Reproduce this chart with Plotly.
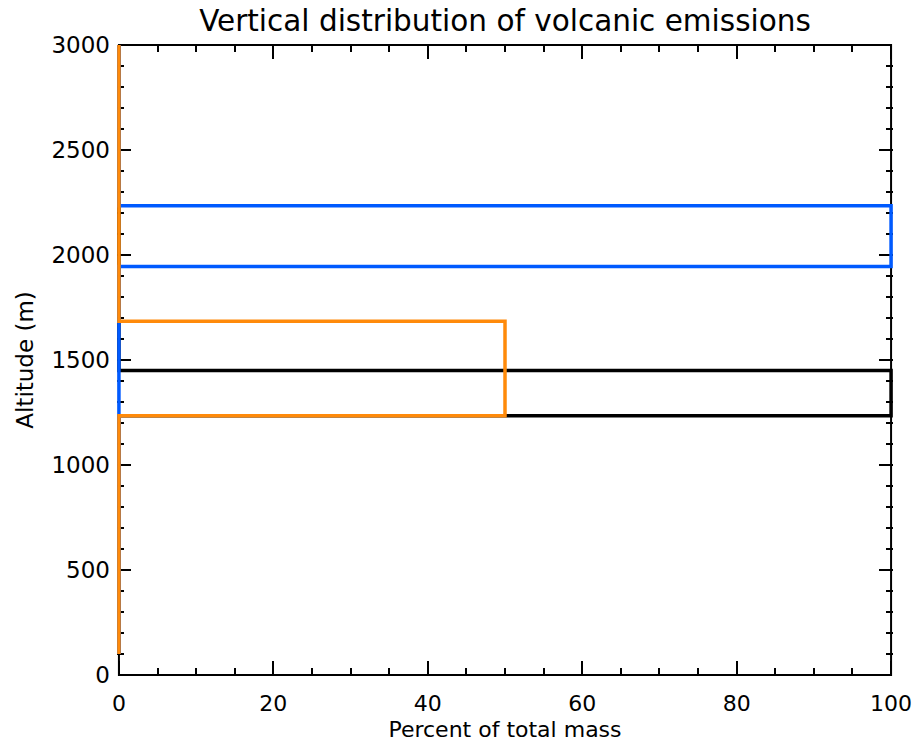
import plotly.graph_objects as go

# Layer edges (altitude, m) and percent of total mass per layer
layer_edges = [100, 1235, 1450, 1685, 1945, 2235, 3000]
series_names = ["Black", "Blue", "Orange"]
black_pct = [0, 100, 0, 0, 0, 0]
blue_pct = [0, 0, 0, 0, 100, 0]
orange_pct = [0, 50, 50, 0, 0, 0]
series_colors = ["#000000", "#005AFF", "#FF8A0A"]

x_ticks = [0, 20, 40, 60, 80, 100]
y_ticks = [0, 500, 1000, 1500, 2000, 2500, 3000]
x_range = [0, 100]
y_range = [0, 3000]
pad = 0.25  # small range padding so lines on the frame are not clipped


def step_profile(edges, vals):
    xs, ys = [], []
    for i, v in enumerate(vals):
        xs += [v, v]
        ys += [edges[i], edges[i + 1]]
    return xs, ys


fig = go.Figure()
for name, vals, col in zip(series_names, [black_pct, blue_pct, orange_pct], series_colors):
    xs, ys = step_profile(layer_edges, vals)
    fig.add_trace(go.Scatter(x=xs, y=ys, mode="lines", name=name,
                             line=dict(color=col, width=3.5), cliponaxis=False,
                             showlegend=False))

font = "DejaVu Sans"
fig.update_layout(
    width=914, height=742,
    margin=dict(l=117, r=21, t=45, b=67),
    paper_bgcolor="white", plot_bgcolor="white",
    title=dict(text="Vertical distribution of volcanic emissions",
               x=(119 + 891) / 2 / 914, xanchor="center", y=1 - 21 / 742, yanchor="middle",
               font=dict(family=font, size=29.5, color="black")),
    font=dict(family=font, color="black"),
    shapes=[dict(type="rect", xref="x", yref="paper", x0=x_range[0], x1=x_range[1], y0=0, y1=1,
                 line=dict(color="black", width=2), layer="below")],
)
fig.update_xaxes(
    range=[x_range[0] - pad, x_range[1] + pad], tickvals=x_ticks, ticktext=[str(v) for v in x_ticks],
    ticks="inside", ticklen=14, tickwidth=2, tickcolor="black",
    minor=dict(ticks="inside", ticklen=7, tickwidth=2, tickcolor="black", dtick=5, tick0=0, showgrid=False),
    showline=False, mirror="allticks",
    showgrid=False, zeroline=False, automargin=False, layer="below traces",
    ticklabelstandoff=13,
    tickfont=dict(family=font, size=22, color="black"),
    title=dict(text="Percent of total mass", font=dict(family=font, size=22, color="black"), standoff=8),
)
fig.update_yaxes(
    range=y_range, tickvals=y_ticks, ticktext=[str(v) for v in y_ticks],
    ticks="inside", ticklen=14, tickwidth=2, tickcolor="black",
    minor=dict(ticks="inside", ticklen=7, tickwidth=2, tickcolor="black", dtick=100, tick0=0, showgrid=False),
    showline=False, mirror="allticks",
    showgrid=False, zeroline=False, automargin=False, layer="below traces",
    ticklabelstandoff=6,
    tickfont=dict(family=font, size=23, color="black"),
    title=dict(text="Altitude (m)", font=dict(family=font, size=23, color="black"), standoff=11),
)

fig.write_html("out.html")
